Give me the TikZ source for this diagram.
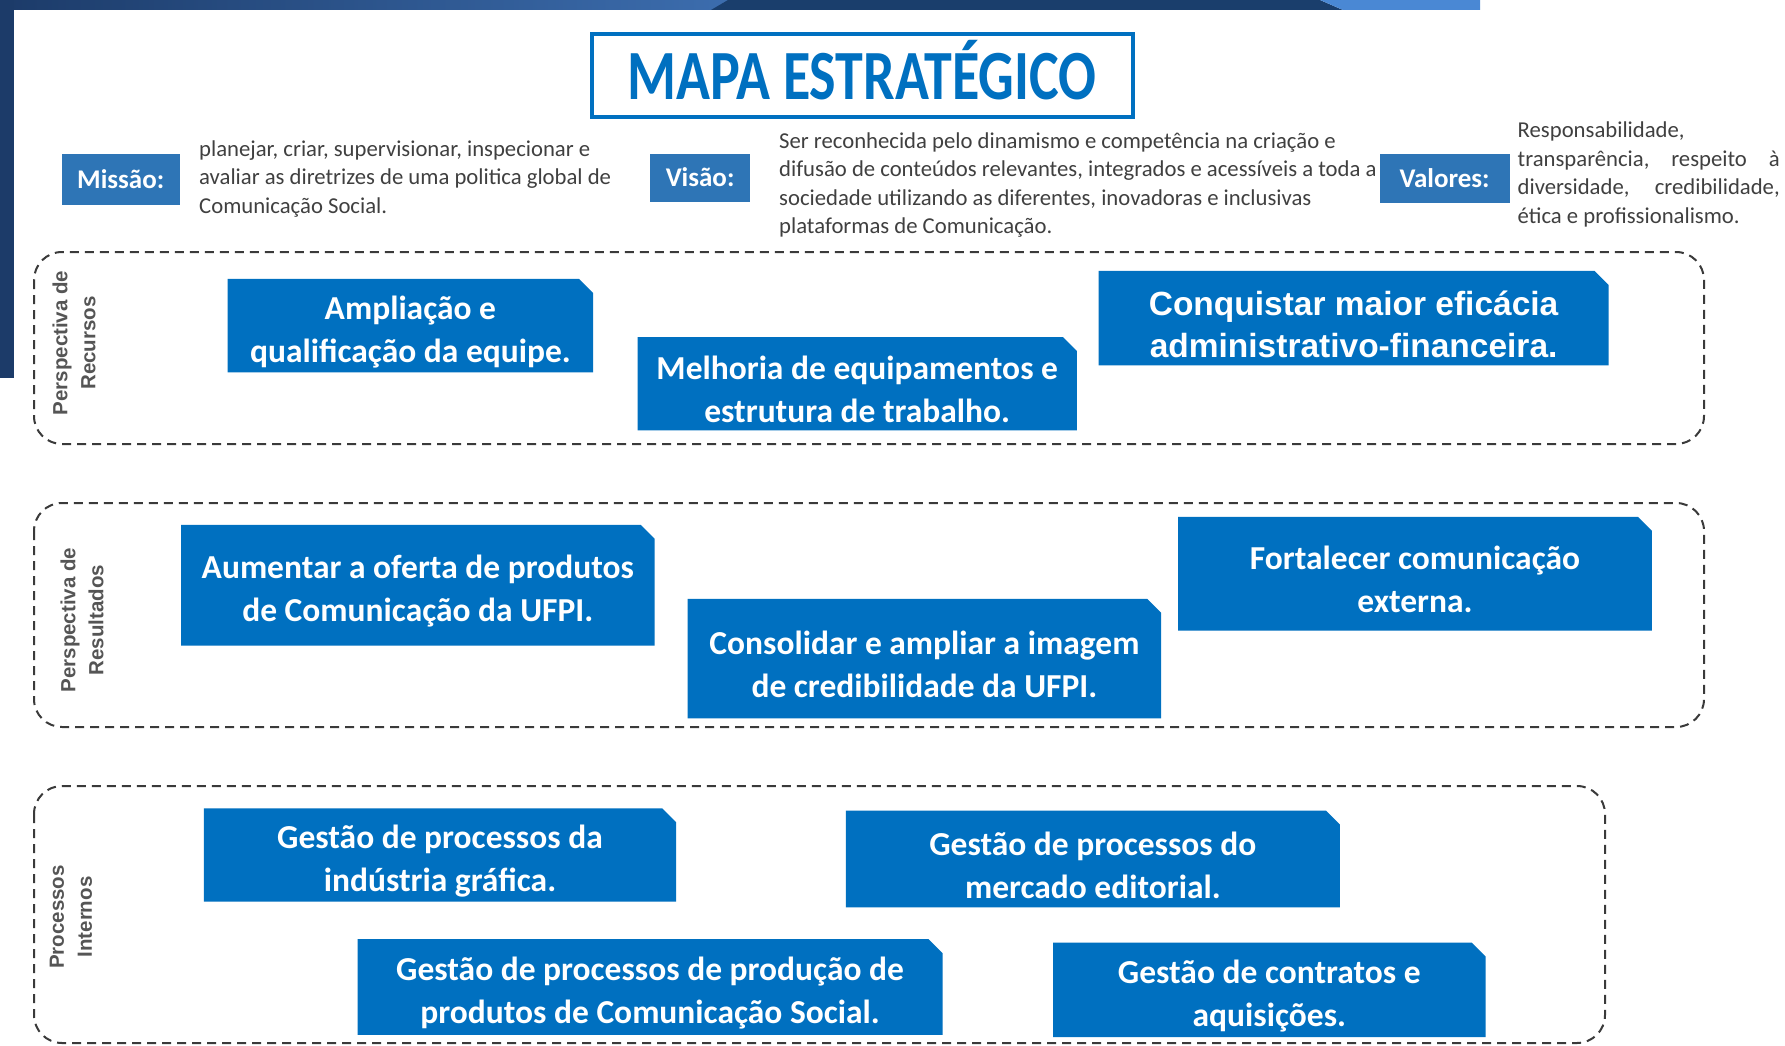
\documentclass[tikz,border=0pt]{standalone}
\usepackage{fontspec}
\usepackage{graphicx}
\setmainfont{Carlito}
\newfontfamily\arialf{Liberation Sans}
\definecolor{boxblue}{HTML}{0070C0}
\definecolor{lblblue}{HTML}{2E75B6}
\definecolor{navy}{HTML}{1C3B69}
\definecolor{navytwo}{HTML}{1A3E6C}
\definecolor{midnavy}{HTML}{3C6DAE}
\definecolor{lightband}{HTML}{4A88D4}
\definecolor{txtgray}{HTML}{404040}
\definecolor{dashgray}{HTML}{3A3A3A}
\definecolor{sidegray}{HTML}{555555}
\newcommand\mapbox[7][]{%
  \fill[boxblue] (#3,#4) -- ({#5-14},#4) -- (#5,{#4+14}) -- (#5,#6) -- (#3,#6) -- cycle;
  \node[boxtxt,#1] (#2) at ({(#3+#5)/2},{(#4+#6)/2+6}) {#7};
}
\begin{document}
\begin{tikzpicture}[x=1pt,y=-1pt,
  boxtxt/.style={text=white, font=\fontsize{33.5}{43}\selectfont\bfseries, align=center, inner sep=0pt},
  arialbox/.style={font=\arialf\fontsize{33.5}{42}\selectfont\bfseries},
  lbl/.style={fill=lblblue, text=white, font=\fontsize{27}{30}\selectfont\bfseries, inner sep=0pt},
  smalltxt/.style={text=txtgray, font=\fontsize{22.7}{28.5}\selectfont, align=left, inner sep=0pt},
  side/.style={text=sidegray, font=\arialf\fontsize{20.5}{28}\selectfont\bfseries, align=center, rotate=90, inner sep=0pt},
  zone/.style={draw=dashgray, line width=2pt, dash pattern=on 9pt off 6pt, rounded corners=28pt}
]
\useasboundingbox (0,0) rectangle (1785,1046);
\fill[white] (0,0) rectangle (1785,1046);
% top band and left strip
\shade[left color=navy, right color=midnavy] (0,0) rectangle (730,10);
\fill[navytwo] (711,10) -- (728,0) -- (1320,0) -- (1343,10) -- cycle;
\fill[lightband] (1343,10) -- (1320,0) -- (1480,0) -- (1480,10) -- cycle;
\fill[navy] (0,0) rectangle (14,378);
% title
\draw[boxblue, line width=4pt] (592,34) rectangle (1133,117);
\node[text=boxblue, font=\fontsize{56}{60}\selectfont\bfseries, inner sep=0pt, anchor=base] (title) at (862,100) {\scalebox{1}[1.26]{MAPA ESTRATÉGICO}};
% mission / vision / values
\node[lbl, minimum width=118.4pt, minimum height=51.2pt] (missao) at (120.7,179.3) {Missão:};
\node[smalltxt, anchor=west] (missaotxt) at (199,179) {planejar, criar, supervisionar, inspecionar e\\avaliar as diretrizes de uma politica global de\\Comunicação Social.};
\node[lbl, minimum width=100.2pt, minimum height=47.8pt] (visao) at (700.1,177.6) {Visão:};
\node[smalltxt, anchor=west] (visaotxt) at (779,185) {Ser reconhecida pelo dinamismo e competência na criação e\\difusão de conteúdos relevantes, integrados e acessíveis a toda a\\sociedade utilizando as diferentes, inovadoras e inclusivas\\plataformas de Comunicação.};
\node[lbl, minimum width=129.8pt, minimum height=48.9pt] (valores) at (1444.6,178.2) {Valores:};
\node[smalltxt, anchor=west] (valorestxt) at (1517.5,174.5) {Responsabilidade,\\\hbox to 262pt{transparência,\hfill respeito\hfill à}\\\hbox to 262pt{diversidade,\hfill credibilidade,}\\ética e profissionalismo.};
% zones
\draw[zone] (34,252) rectangle (1704,444);
\draw[zone] (34,503) rectangle (1704,727);
\draw[zone] (34,786) rectangle (1605,1043);
\node[side] (recursos) at (74,343) {Perspectiva de\\Recursos};
\node[side] (resultados) at (82,620) {Perspectiva de\\Resultados};
\node[side] (processos) at (71,917) {Processos\\Internos};
% recursos
\mapbox{r1}{227.7}{278.9}{593.1}{372.3}{Ampliação e\\qualificação da equipe.}
\mapbox{r2}{637.5}{337}{1076.9}{430.3}{Melhoria de equipamentos e\\estrutura de trabalho.}
\mapbox[arialbox]{r3}{1098.6}{270.9}{1608.6}{365.4}{Conquistar maior eficácia\\administrativo-financeira.}
% resultados
\mapbox{s1}{181}{524.8}{654.6}{645.5}{Aumentar a oferta de produtos\\de Comunicação da UFPI.}
\mapbox{s2}{687.6}{598.8}{1161.2}{718.3}{Consolidar e ampliar a imagem\\de credibilidade da UFPI.}
\mapbox{s3}{1178.2}{516.8}{1651.8}{630.7}{Fortalecer comunicação\\externa.}
% processos
\mapbox{p1}{203.8}{808.3}{676.2}{901.6}{Gestão de processos da\\indústria gráfica.}
\mapbox{p2}{845.8}{810.5}{1339.9}{907.3}{Gestão de processos do\\mercado editorial.}
\mapbox{p3}{357.5}{939.2}{942.6}{1034.8}{Gestão de processos de produção de\\produtos de Comunicação Social.}
\mapbox{p4}{1053}{942.6}{1485.6}{1037.1}{Gestão de contratos e\\aquisições.}
\end{tikzpicture}
\end{document}
